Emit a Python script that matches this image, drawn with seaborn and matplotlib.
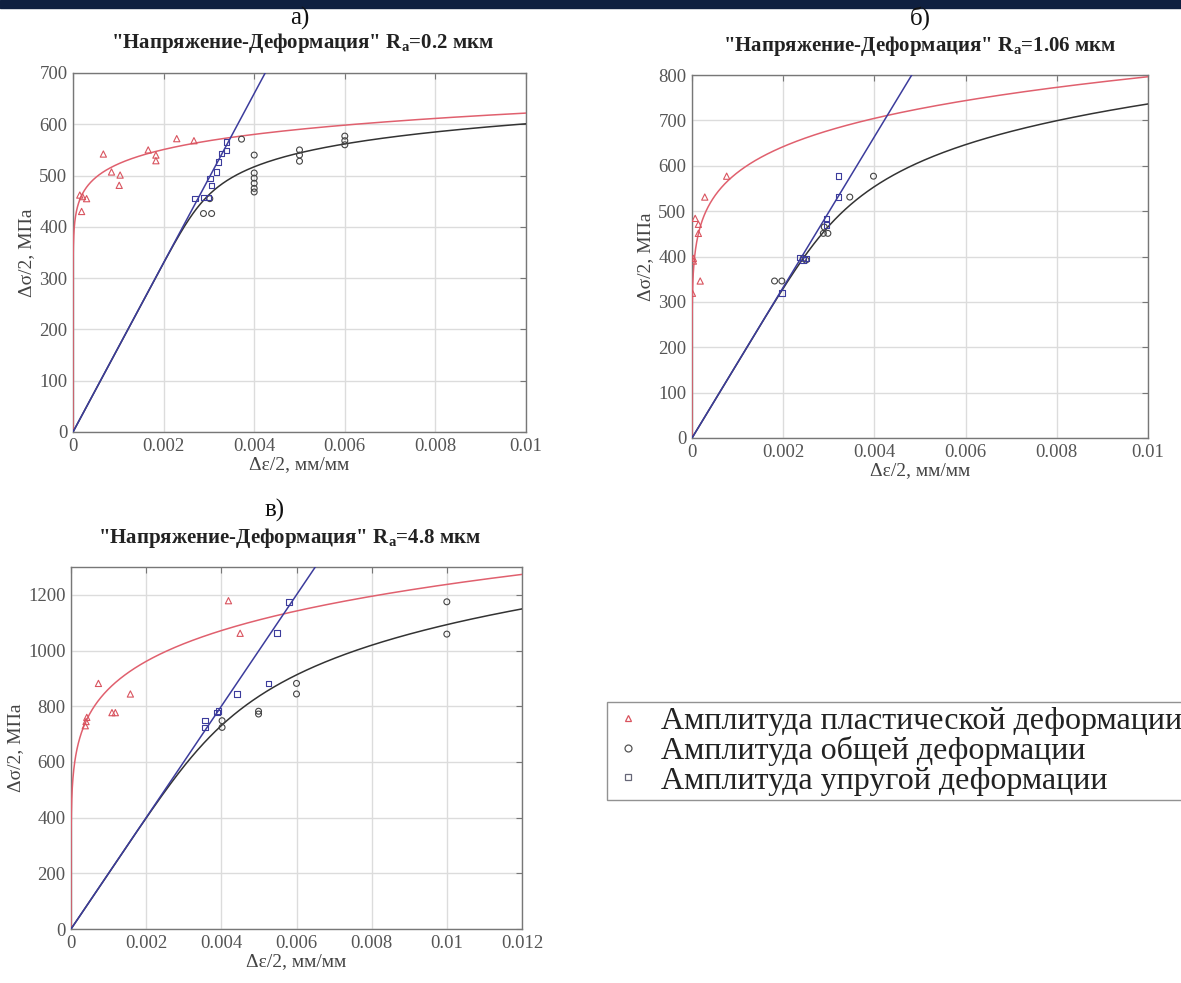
import numpy as np
import pandas as pd
import matplotlib
matplotlib.use("Agg")
import matplotlib.pyplot as plt
from matplotlib.lines import Line2D
from matplotlib.patches import Rectangle
from matplotlib.ticker import FuncFormatter, MultipleLocator
import seaborn as sns

# ---------------- data ----------------
# Panel a) Ra = 0.2 um
a_pl_eps = [0.00021, 0.00015, 0.00030, 0.00019, 0.00067, 0.00085, 0.00104, 0.00102,
            0.00166, 0.00183, 0.00183, 0.00229, 0.00267]
a_pl_sig = [459, 462, 455, 430, 542, 507, 501, 481, 550, 540, 529, 572, 568]
a_el_eps = [0.00339, 0.00339, 0.00328, 0.00321, 0.00317, 0.00302, 0.00306, 0.00269,
            0.00288, 0.00299]
a_el_sig = [566, 549, 543, 527, 507, 494, 481, 455, 457, 457]
a_tot_eps = [0.00302, 0.00288, 0.00306, 0.00372, 0.0040, 0.0040, 0.0040, 0.0040,
             0.0040, 0.0040, 0.0050, 0.0050, 0.0050, 0.0060, 0.0060, 0.0060]
a_tot_sig = [455, 426, 426, 571, 540, 505, 495, 485, 475, 468, 550, 540, 528, 577, 568, 560]

# Panel b) Ra = 1.06 um
b_pl_eps = [0.00007, 0.00014, 0.00014, 0.00003, 0.00003, 0.00018, 0.00001, 0.00028, 0.00076]
b_pl_sig = [484, 471, 451, 396, 390, 346, 319, 531, 577]
b_el_eps = [0.00237, 0.00244, 0.00250, 0.00197, 0.00295, 0.00295, 0.00321, 0.00321]
b_el_sig = [398, 392, 396, 319, 484, 469, 531, 577]
b_tot_eps = [0.00181, 0.00197, 0.00244, 0.00250, 0.00288, 0.00298, 0.00290, 0.00346, 0.00398]
b_tot_sig = [346, 346, 396, 392, 451, 451, 465, 531, 577]

# Panel c) Ra = 4.8 um
c_pl_eps = [0.00073, 0.00158, 0.00109, 0.00118, 0.00038, 0.00040, 0.00042, 0.00419, 0.00450]
c_pl_sig = [882, 844, 777, 777, 730, 745, 760, 1179, 1062]
c_el_eps = [0.00580, 0.00548, 0.00526, 0.00441, 0.00388, 0.00392, 0.00357, 0.00357]
c_el_sig = [1175, 1062, 882, 844, 777, 782, 748, 724]
c_tot_eps = [0.0100, 0.0100, 0.0060, 0.0060, 0.00499, 0.00499, 0.00402, 0.00402]
c_tot_sig = [1175, 1059, 882, 844, 782, 772, 748, 724]

# fitted Ramberg-Osgood parameters per panel: E (MPa), K' (MPa), n'
fit_E = [165000, 166000, 200000]
fit_K = [880, 1473, 2550]
fit_n = [0.0754, 0.1336, 0.157]

panel_letters = ["а)", "б)", "в)"]
titles = ['"Напряжение-Деформация" R$_{\\mathbf{a}}$=0.2 мкм',
          '"Напряжение-Деформация" R$_{\\mathbf{a}}$=1.06 мкм',
          '"Напряжение-Деформация" R$_{\\mathbf{a}}$=4.8 мкм']
x_label = "Δε/2, мм/мм"
y_label = "Δσ/2, МПа"
legend_labels = ["Амплитуда пластической деформации",
                 "Амплитуда общей деформации",
                 "Амплитуда упругой деформации"]

# ---------------- style ----------------
sns.set_style("white")
plt.rcParams["font.family"] = ["Liberation Serif", "DejaVu Serif"]
plt.rcParams["mathtext.fontset"] = "custom"
plt.rcParams["mathtext.rm"] = "Liberation Serif"
plt.rcParams["mathtext.bf"] = "Liberation Serif:bold"

RED = "#e0606e"
RED_PT = "#d9545f"
BLUE = "#3c3c9c"
BLACK = "#333333"
GRID = "#dcdcdc"
TICK = "#555555"

fig = plt.figure(figsize=(11.81, 9.83), dpi=100)
fig.patches.append(Rectangle((0, 1 - 8 / 983), 1, 8 / 983, transform=fig.transFigure,
                             color="#0f2040", zorder=0))

W, H = 1181, 983
boxes = [(73, 526, 73, 432), (692, 1148, 75, 438), (71, 522, 567, 929)]
xlims = [(0, 0.01), (0, 0.01), (0, 0.012)]
ylims = [(0, 700), (0, 800), (0, 1300)]
ysteps = [100, 100, 200]
label_pos = [(300, 18), (920, 18), (275, 510)]
title_y = [43, 46, 538]
title_x = [303, 920, 290]

data = [
    (a_pl_eps, a_pl_sig, a_tot_eps, a_tot_sig, a_el_eps, a_el_sig),
    (b_pl_eps, b_pl_sig, b_tot_eps, b_tot_sig, b_el_eps, b_el_sig),
    (c_pl_eps, c_pl_sig, c_tot_eps, c_tot_sig, c_el_eps, c_el_sig),
]

fmt = FuncFormatter(lambda v, p: "0" if abs(v) < 1e-12 else "{:g}".format(round(v, 6)))

for i in range(3):
    l, r, t, b = boxes[i]
    ax = fig.add_axes([l / W, 1 - b / H, (r - l) / W, (b - t) / H])
    E, K, n = fit_E[i], fit_K[i], fit_n[i]
    ymax = ylims[i][1]
    sig = np.linspace(0, ymax * 1.2, 1500)
    eps_p = (sig / K) ** (1.0 / n)
    eps_t = sig / E + eps_p
    eps_e = sig / E
    curves = pd.DataFrame({"sig": sig, "pl": eps_p, "tot": eps_t, "el": eps_e})

    sns.lineplot(data=curves, x="pl", y="sig", sort=False, estimator=None,
                 color=RED, lw=1.1, ax=ax, zorder=3)
    sns.lineplot(data=curves, x="tot", y="sig", sort=False, estimator=None,
                 color=BLACK, lw=1.1, ax=ax, zorder=3)
    sns.lineplot(data=curves, x="el", y="sig", sort=False, estimator=None,
                 color=BLUE, lw=1.1, ax=ax, zorder=4)

    pe, ps, te, ts, ee, es = data[i]
    sns.scatterplot(x=pe, y=ps, marker="^", s=20, facecolors="none", edgecolors=RED_PT,
                    linewidths=0.8, ax=ax, zorder=5)
    sns.scatterplot(x=te, y=ts, marker="o", s=18, facecolors="none", edgecolors="#444444",
                    linewidths=0.8, ax=ax, zorder=5)
    sns.scatterplot(x=ee, y=es, marker="s", s=16, facecolors="none", edgecolors=BLUE,
                    linewidths=0.8, ax=ax, zorder=5)

    ax.set_xlim(*xlims[i])
    ax.set_ylim(*ylims[i])
    ax.xaxis.set_major_locator(MultipleLocator(0.002))
    ax.yaxis.set_major_locator(MultipleLocator(ysteps[i]))
    ax.xaxis.set_major_formatter(fmt)
    ax.grid(True, color=GRID, lw=1.0)
    ax.set_axisbelow(True)
    ax.tick_params(direction="in", length=4, color="#777777", labelsize=13.5,
                   labelcolor=TICK, top=True, right=True, pad=4)
    for s in ax.spines.values():
        s.set_color("#777777")
        s.set_linewidth(1.0)
    ax.set_xlabel(x_label, fontsize=14, color="#444444", labelpad=1)
    ax.set_ylabel(y_label, fontsize=14, color="#444444", labelpad=3)

    fig.text(label_pos[i][0] / W, 1 - label_pos[i][1] / H, panel_letters[i],
             fontsize=18, ha="center", va="center", color="#111111")
    fig.text(title_x[i] / W, 1 - title_y[i] / H, titles[i], fontsize=15,
             fontweight="bold", ha="center", va="center", color="#222222")

handles = [
    Line2D([], [], ls="none", marker="^", ms=5, mfc="none", mec=RED_PT, mew=0.9),
    Line2D([], [], ls="none", marker="o", ms=5, mfc="none", mec="#555555", mew=0.9),
    Line2D([], [], ls="none", marker="s", ms=5, mfc="none", mec="#666677", mew=0.9),
]
leg = fig.legend(handles, legend_labels, loc="upper left",
                 bbox_to_anchor=(607 / W, 1 - 702 / H), fontsize=23,
                 frameon=True, fancybox=False, handlelength=1.0, handletextpad=0.55,
                 borderpad=0.15, labelspacing=0.0, borderaxespad=0)
leg.get_frame().set_edgecolor("#777777")
leg.get_frame().set_linewidth(1.0)
for txt in leg.get_texts():
    txt.set_color("#222222")

fig.savefig("out.png", dpi=100)
